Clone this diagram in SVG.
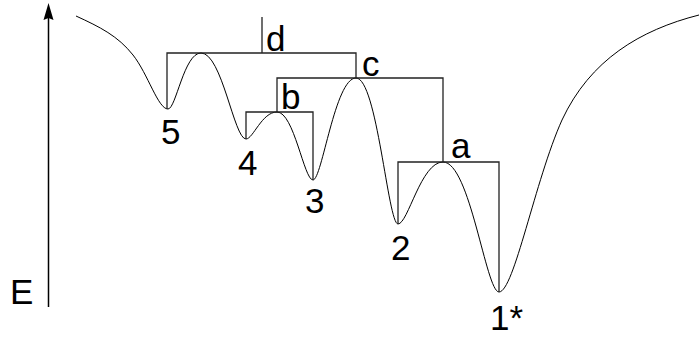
<svg xmlns="http://www.w3.org/2000/svg" width="699" height="338" viewBox="0 0 699 338">
<style>
  .lbl { font-family: "Liberation Sans", Arial, sans-serif; font-size: 35px; fill: #000; }
  .curve { fill: none; stroke: #000; stroke-width: 1; }
  .br { fill: none; stroke: #222; stroke-width: 1.3; }
  .axis { stroke: #000; stroke-width: 1.5; }
</style>
<rect width="699" height="338" fill="#fff"/>
<g id="axis">
  <line class="axis" x1="48.5" y1="307" x2="48.5" y2="16"/>
  <polygon points="48.5,3 53.5,20 48.5,18 43.5,20" fill="#000"/>
  <text class="lbl" x="10" y="304">E</text>
</g>
<g id="landscape">
  <path class="curve" d="M76,16 C100,27 118,36 133,55 C148,74 158,109 168,109 C176,109 184,53 201,53 C222,53 234,139 246,139 C253,139 262,112 277,112 C294,112 304,180 313,180 C322,180 335,78 356,78 C377,78 388,224 398,224 C408,224 421,162 443,162 C470,162 486,292 499,292 C514,292 535,180 562,120 C590,60 640,30 699,15"/>
</g>
<g id="connectors">
  <path class="br" d="M262,17 V53 M167,109 V53 H356 V78"/>
  <path class="br" d="M277,112 V78 H443 V162"/>
  <path class="br" d="M246,139 V112 H313 V180"/>
  <path class="br" d="M398,224 V162 H499 V292"/>
</g>
<g id="node-d"><text class="lbl" x="266" y="51">d</text></g>
<g id="node-c"><text class="lbl" x="362" y="76">c</text></g>
<g id="node-b"><text class="lbl" x="281" y="109">b</text></g>
<g id="node-a"><text class="lbl" x="451" y="158">a</text></g>
<g id="node-5"><text class="lbl" x="161" y="144">5</text></g>
<g id="node-4"><text class="lbl" x="238" y="175">4</text></g>
<g id="node-3"><text class="lbl" x="305" y="213">3</text></g>
<g id="node-2"><text class="lbl" x="391" y="260">2</text></g>
<g id="node-1"><text class="lbl" x="490" y="330">1*</text></g>
</svg>
